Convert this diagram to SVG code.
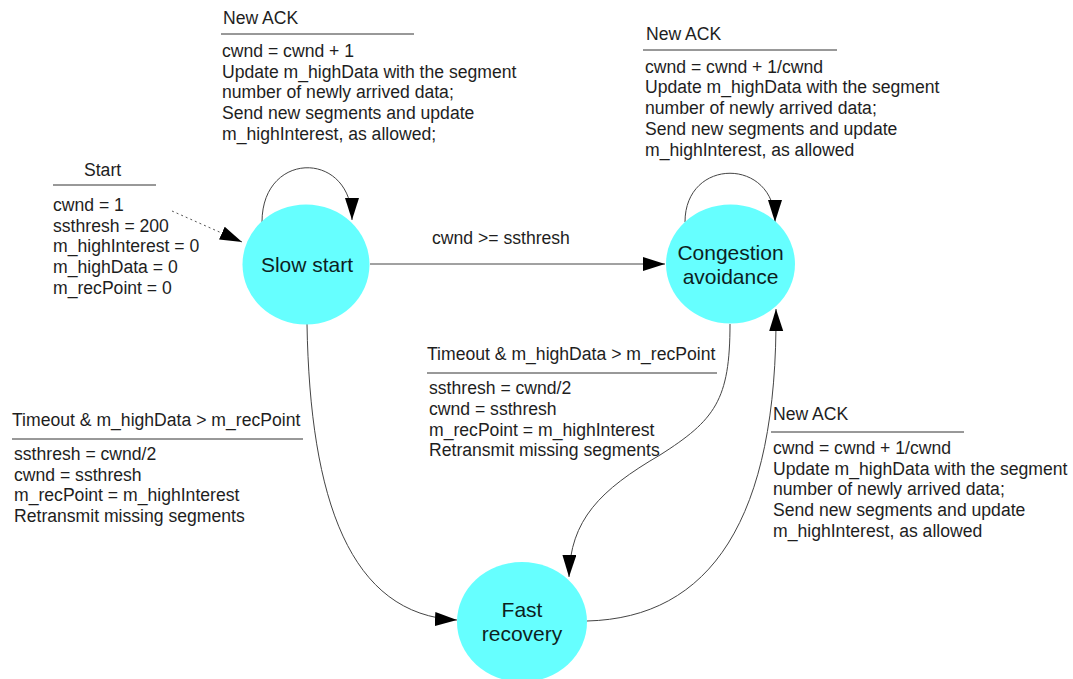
<svg xmlns="http://www.w3.org/2000/svg" width="1073" height="679" viewBox="0 0 1073 679">
<style>
.t{font-family:"Liberation Sans",Arial,sans-serif;font-size:17.6px;fill:#1e1e1e}
.nl{font-family:"Liberation Sans",Arial,sans-serif;font-size:21px;fill:#0d1f1f;text-anchor:middle}
.node{fill:#66ffff;stroke:none}
.sep{stroke:#333;stroke-width:1}
.edge{fill:none;stroke:#444;stroke-width:1}
.dot{fill:none;stroke:#555;stroke-width:1;stroke-dasharray:2,3}
</style>
<defs>
<marker id="ah" markerUnits="userSpaceOnUse" markerWidth="24" markerHeight="16" refX="22" refY="7" orient="auto">
<path d="M0,0 L22,7 L0,14 z" fill="#000"/>
</marker>
</defs>
<rect width="1073" height="679" fill="#fff"/>
<g id="connectors">
<path class="edge" d="M262,222 C262,150 352,150 352,220" marker-end="url(#ah)"/>
<path class="edge" d="M685,222 C685,157 775,157 775,222" marker-end="url(#ah)"/>
<path class="edge" d="M370,264 L665,264" marker-end="url(#ah)"/>
<path class="dot" d="M172,211 L242,242" marker-end="url(#ah)"/>
<path class="edge" d="M307,324 C310,500 350,615 457,620" marker-end="url(#ah)"/>
<path class="edge" d="M730,324 C730,400 715,420 660,455 C600,490 570,520 569,577" marker-end="url(#ah)"/>
<path class="edge" d="M587,621 C710,618 778,520 776,309" marker-end="url(#ah)"/>
</g>
<g id="label-ss-ca"><text class="t" x="432" y="244">cwnd &gt;= ssthresh</text></g>
<g id="label-start">
<text class="t" x="84" y="176">Start</text>
<line class="sep" x1="53" y1="185" x2="156" y2="185"/>
<text class="t" x="53" y="211">cwnd = 1</text>
<text class="t" x="53" y="231.7">ssthresh = 200</text>
<text class="t" x="53" y="252.3">m_highInterest = 0</text>
<text class="t" x="53" y="273">m_highData = 0</text>
<text class="t" x="53" y="293.6">m_recPoint = 0</text>
</g>
<g id="label-ss-loop">
<text class="t" x="223" y="24">New ACK</text>
<line class="sep" x1="221" y1="34" x2="414" y2="34"/>
<text class="t" x="222" y="57">cwnd = cwnd + 1</text>
<text class="t" x="222" y="77.7">Update m_highData with the segment</text>
<text class="t" x="222" y="98.4">number of newly arrived data;</text>
<text class="t" x="222" y="119.1">Send new segments and update</text>
<text class="t" x="222" y="139.8">m_highInterest, as allowed;</text>
</g>
<g id="label-ca-loop">
<text class="t" x="646" y="39.5">New ACK</text>
<line class="sep" x1="643" y1="50" x2="837" y2="50"/>
<text class="t" x="645" y="72.7">cwnd = cwnd + 1/cwnd</text>
<text class="t" x="645" y="93.4">Update m_highData with the segment</text>
<text class="t" x="645" y="114.1">number of newly arrived data;</text>
<text class="t" x="645" y="134.8">Send new segments and update</text>
<text class="t" x="645" y="155.5">m_highInterest, as allowed</text>
</g>
<g id="label-ss-fr">
<text class="t" x="12" y="426">Timeout &amp; m_highData &gt; m_recPoint</text>
<line class="sep" x1="12" y1="439" x2="303" y2="439"/>
<text class="t" x="14" y="460">ssthresh = cwnd/2</text>
<text class="t" x="14" y="480.7">cwnd = ssthresh</text>
<text class="t" x="14" y="501.4">m_recPoint = m_highInterest</text>
<text class="t" x="14" y="522.1">Retransmit missing segments</text>
</g>
<g id="label-ca-fr">
<text class="t" x="427" y="360">Timeout &amp; m_highData &gt; m_recPoint</text>
<line class="sep" x1="427" y1="373" x2="717" y2="373"/>
<text class="t" x="429" y="394.3">ssthresh = cwnd/2</text>
<text class="t" x="429" y="415">cwnd = ssthresh</text>
<text class="t" x="429" y="435.7">m_recPoint = m_highInterest</text>
<text class="t" x="429" y="456.4">Retransmit missing segments</text>
</g>
<g id="label-fr-ca">
<text class="t" x="773" y="420">New ACK</text>
<line class="sep" x1="771" y1="432" x2="964" y2="432"/>
<text class="t" x="773" y="454">cwnd = cwnd + 1/cwnd</text>
<text class="t" x="773" y="474.7">Update m_highData with the segment</text>
<text class="t" x="773" y="495.4">number of newly arrived data;</text>
<text class="t" x="773" y="516.1">Send new segments and update</text>
<text class="t" x="773" y="536.8">m_highInterest, as allowed</text>
</g>
<g id="node-slow-start">
<ellipse class="node" cx="306" cy="264.5" rx="63.5" ry="60"/>
<text class="nl" x="307" y="272">Slow start</text>
</g>
<g id="node-congestion-avoidance">
<ellipse class="node" cx="730.5" cy="264" rx="64.5" ry="59.5"/>
<text class="nl" x="730.5" y="260">Congestion</text>
<text class="nl" x="730.5" y="283.5">avoidance</text>
</g>
<g id="node-fast-recovery">
<ellipse class="node" cx="522" cy="622" rx="65" ry="60"/>
<text class="nl" x="522" y="617">Fast</text>
<text class="nl" x="522" y="640.5">recovery</text>
</g>
</svg>
